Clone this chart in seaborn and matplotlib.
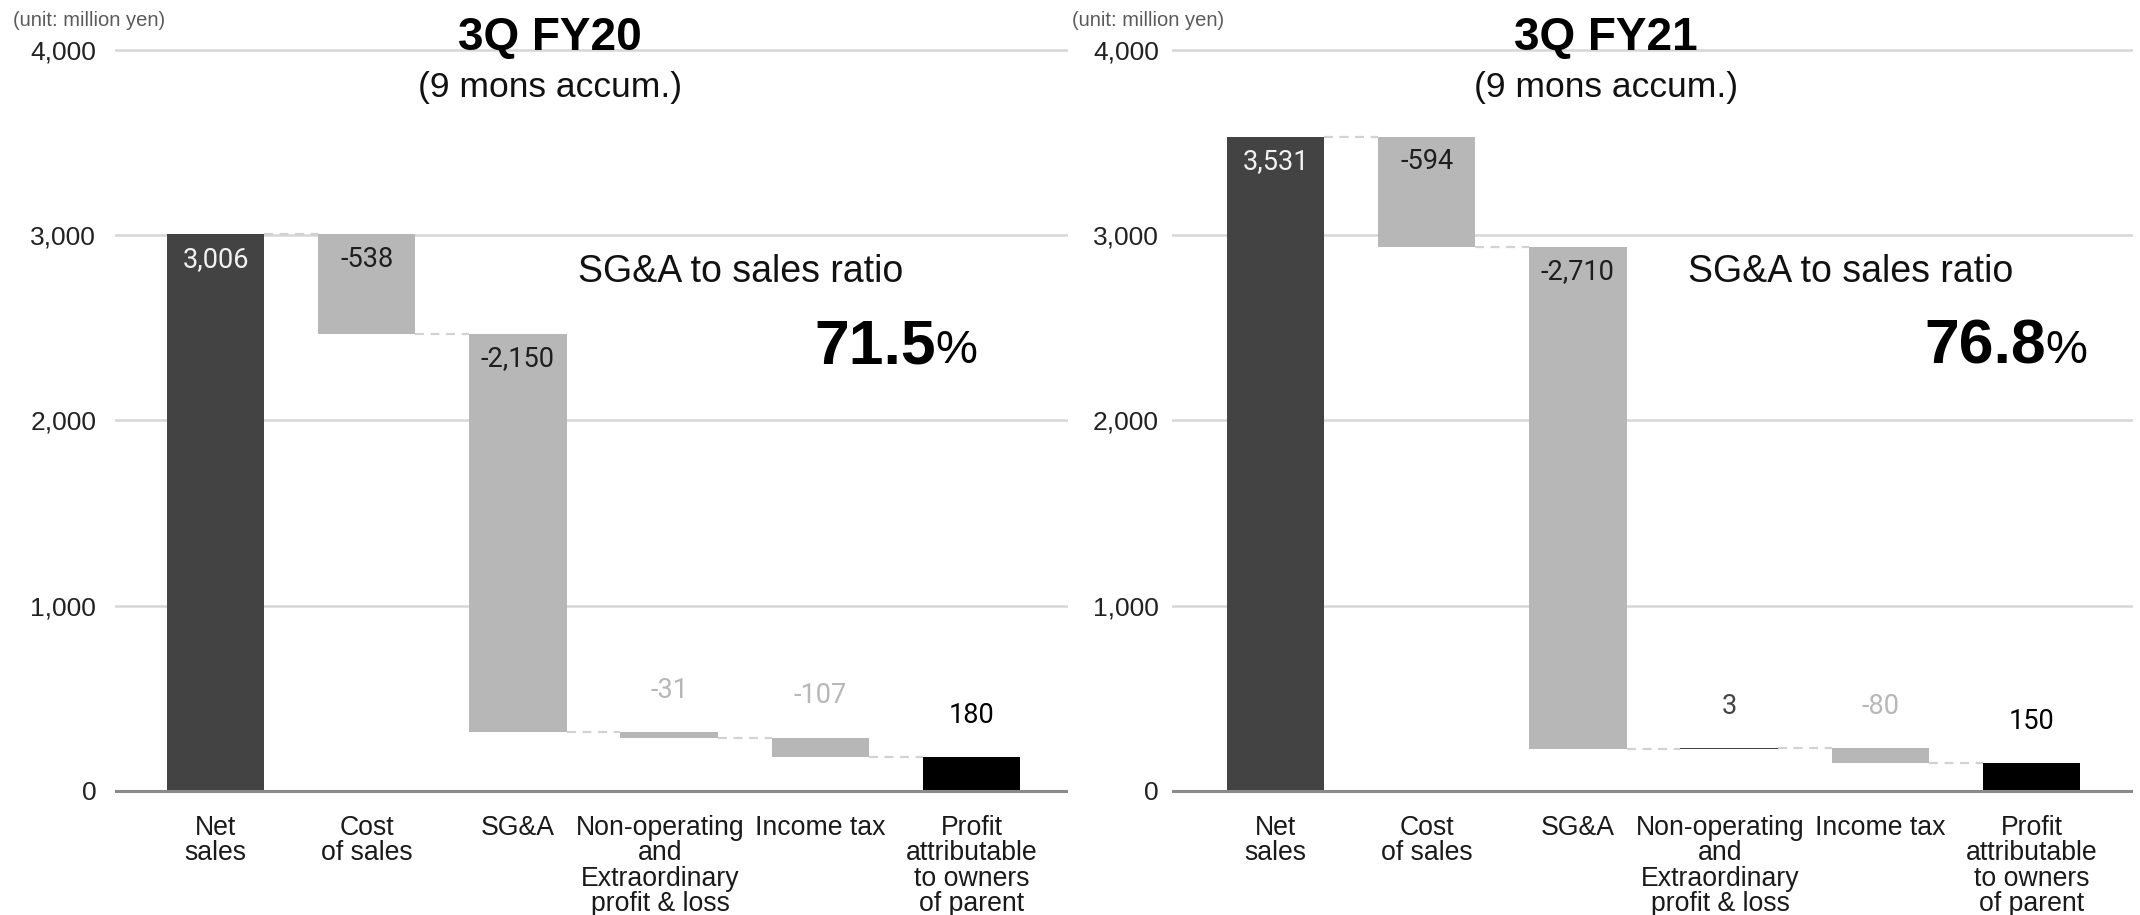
import numpy as np
import pandas as pd
import matplotlib
matplotlib.use("Agg")
import matplotlib.pyplot as plt
import seaborn as sns

# ---------------- data ----------------
categories = ["Net\nsales", "Cost\nof sales", "SG&A",
              "Non-operating\nand\nExtraordinary\nprofit & loss",
              "Income tax", "Profit\nattributable\nto owners\nof parent"]
bar_kinds = ["total", "delta", "delta", "delta", "delta", "result"]
fy20_values = [3006, -538, -2150, -31, -107, 180]
fy21_values = [3531, -594, -2710, 3, -80, 150]
titles = ["3Q FY20", "3Q FY21"]
subtitle = "(9 mons accum.)"
ratio_label = "SG&A to sales ratio"
ratio_values = ["71.5", "76.8"]
unit_label = "(unit: million yen)"
y_ticks = [0, 1000, 2000, 3000, 4000]

# ---------------- style ----------------
sns.set_theme(style="white")
plt.rcParams["font.family"] = ["Liberation Sans", "DejaVu Sans"]

C_TOTAL = "#434343"
C_NEG = "#b7b7b7"
C_POS = "#434343"
C_RESULT = "#000000"

W, H = 2140, 915
fig = plt.figure(figsize=(W / 100, H / 100), dpi=100)


def fx(px):
    return px / W


def fy(py):
    return 1 - py / H


def waterfall(values, kinds):
    bottoms, heights, colors, ends = [], [], [], []
    running = 0
    for v, k in zip(values, kinds):
        if k == "delta":
            start, end = running, running + v
            bottoms.append(min(start, end))
            heights.append(abs(v))
            colors.append(C_NEG if v < 0 else C_POS)
            running = end
        else:
            bottoms.append(0)
            heights.append(v)
            colors.append(C_TOTAL if k == "total" else C_RESULT)
            running = v
        ends.append(running)
    return bottoms, heights, colors, ends


# panel geometry (pixels)
panels = [
    dict(left=115, right=1068, x0_center=215.5, tick_pad=13.5,
         unit_x=13, title_x=550, ratio_x=578, pct_right=977),
    dict(left=1172, right=2133, x0_center=1275.5, tick_pad=9.5,
         unit_x=1072, title_x=1606, ratio_x=1688, pct_right=2087),
]
y0_px, y4000_px = 790.7, 50.0
ppu = (y0_px - y4000_px) / 4000.0
ymin, ymax = -30, 4030
step = 151.2
bar_w = 0.645
label_dx = [0, 0, 0, -6.5, 0, 0]   # small horizontal nudges (points)

for p, values, title, ratio in zip(panels, [fy20_values, fy21_values], titles, ratio_values):
    ax_bottom_px = y0_px - ymin * ppu
    ax_top_px = y0_px - ymax * ppu
    ax = fig.add_axes([fx(p["left"]), fy(ax_bottom_px),
                       fx(p["right"] - p["left"]), (ax_bottom_px - ax_top_px) / H])

    bottoms, heights, colors, ends = waterfall(values, bar_kinds)
    df = pd.DataFrame({"category": categories, "height": heights})
    sns.barplot(data=df, x="category", y="height", bottom=np.array(bottoms),
                width=bar_w, color=C_NEG, saturation=1, errorbar=None,
                linewidth=0, ax=ax, zorder=2)
    for patch, c in zip(ax.patches, colors):
        patch.set_facecolor(c)
        patch.set_edgecolor(c)

    # connectors
    for i in range(len(values) - 1):
        ax.plot([i + bar_w / 2, i + 1 - bar_w / 2], [ends[i], ends[i]],
                color="#d2d2d2", lw=1.6, ls=(0, (4, 3)), zorder=1.5)

    # value labels
    for i, (v, k) in enumerate(zip(values, bar_kinds)):
        top = bottoms[i] + heights[i]
        txt = f"{v:,}"
        if heights[i] > 300:
            tc = "#f2f2f2" if k == "total" else "#1e1e1e"
            ax.annotate(txt, (i, top), xytext=(0, -18), textcoords="offset points",
                        ha="center", va="center", fontsize=19.5, color=tc,
                        family=["Roboto", "DejaVu Sans"], zorder=5)
        else:
            ax.annotate(txt, (i, top), xytext=(0, 30), textcoords="offset points",
                        ha="center", va="center", fontsize=19.5, color=colors[i],
                        family=["Roboto", "DejaVu Sans"], zorder=5)

    # axes styling
    xl = (p["left"] - p["x0_center"]) / step
    xr = (p["right"] - p["x0_center"]) / step
    ax.set_xlim(xl, xr)
    ax.set_ylim(ymin, ymax)
    ax.set_yticks(y_ticks)
    ax.set_yticklabels([f"{t:,}" for t in y_ticks])
    ax.grid(axis="y", color="#d6d6d6", linewidth=1.8, zorder=0)
    ax.grid(axis="x", visible=False)
    ax.set_axisbelow(True)
    ax.axhline(0, color="#8a8a8a", lw=2.2, zorder=3)
    for s in ax.spines.values():
        s.set_visible(False)
    ax.set_xlabel("")
    ax.set_ylabel("")
    ax.tick_params(axis="y", length=0, pad=p["tick_pad"], labelsize=19, labelcolor="#222222")
    ax.tick_params(axis="x", length=0, labelbottom=False)

    # category labels below the zero line
    xform = ax.get_xaxis_transform()
    zero_frac = (0 - ymin) / (ymax - ymin)
    for i, cat in enumerate(categories):
        ax.annotate(cat, (i, zero_frac), xycoords=xform,
                    xytext=(label_dx[i], -17.5), textcoords="offset points",
                    ha="center", va="top", ma="center", fontsize=19.2,
                    linespacing=0.97, color="#1a1a1a", annotation_clip=False)

    # texts
    fig.text(fx(p["unit_x"]), fy(21), unit_label, ha="left", va="center",
             fontsize=14.5, color="#5a5a5a")
    fig.text(fx(p["title_x"]), fy(50), title, ha="center", va="baseline",
             fontsize=33, fontweight="bold", color="#000000")
    fig.text(fx(p["title_x"]), fy(96.5), subtitle, ha="center", va="baseline",
             fontsize=25.5, color="#111111")
    fig.text(fx(p["ratio_x"]), fy(272), ratio_label, ha="left", va="center",
             fontsize=27, color="#111111")
    fig.text(fx(p["pct_right"]), fy(363), "%", ha="right", va="baseline",
             fontsize=34, color="#000000")
    fig.text(fx(p["pct_right"] - 41), fy(363), ratio, ha="right", va="baseline",
             fontsize=45, fontweight="bold", color="#000000")

fig.savefig("out.png", dpi=100, facecolor="white")
